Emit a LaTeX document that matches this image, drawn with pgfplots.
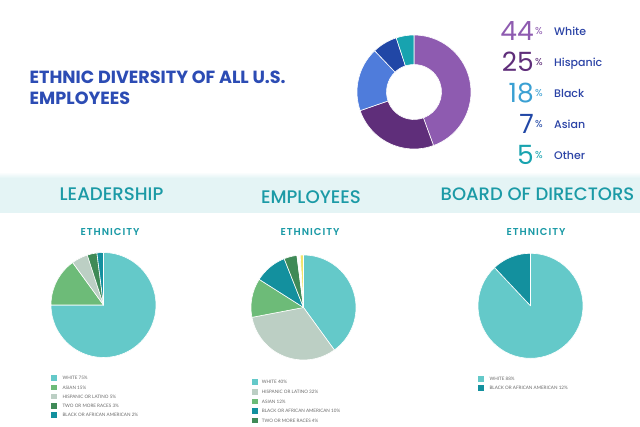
\documentclass[border=0pt]{standalone}
\usepackage{pgfplots}
\pgfplotsset{compat=1.18}
\usepackage{pgfplotstable}
\usepackage{fontspec}
\setmainfont{Poppins}
\IfFontExistsTF{Poppins Medium}{\newfontfamily\med{Poppins Medium}}{\newfontfamily\med{Poppins}}
\IfFontExistsTF{Poppins SemiBold}{\newfontfamily\semi{Poppins SemiBold}}{\newfontfamily\semi{Poppins Bold}}
\newfontfamily\legfont{Lato}

% donut colours
\definecolor{dWhite}{HTML}{8E5BB0}
\definecolor{dHisp}{HTML}{5F2E7A}
\definecolor{dBlack}{HTML}{4F7CDB}
\definecolor{dAsian}{HTML}{2147A6}
\definecolor{dOther}{HTML}{17A3AF}
\definecolor{nBlack}{HTML}{3AA0D3}
\definecolor{titleblue}{HTML}{2C4CB4}
\definecolor{labelblue}{HTML}{2B43A6}
% pie colours
\definecolor{pWhite}{HTML}{64C9C9}
\definecolor{pAsian}{HTML}{6DBB78}
\definecolor{pHisp}{HTML}{BCCFC4}
\definecolor{pTwo}{HTML}{3F8A57}
\definecolor{pBlack}{HTML}{13909E}
\definecolor{pYel}{HTML}{F0E46A}
\definecolor{head}{HTML}{1B9AA6}
\definecolor{band}{HTML}{E4F4F5}
\definecolor{legtext}{HTML}{6A6A6A}

\pgfplotstableread{
v c
44 dWhite
25 dHisp
18 dBlack
7 dAsian
5 dOther
}\donut

\pgfplotstableread{
v c
75 pWhite
15 pAsian
5 pHisp
3 pTwo
2 pBlack
}\leaders

\pgfplotstableread{
v c
40 pWhite
32 pHisp
12 pAsian
10 pBlack
4 pTwo
1 white
1 pYel
}\staff

\pgfplotstableread{
v c
88 pWhite
12 pBlack
}\board

% slices clockwise from 12 o'clock; #1 table, #2 total, #3 outer r, #4 inner r
\newcommand\pieslices[4]{%
  \pgfplotstablegetrowsof{#1}%
  \pgfmathtruncatemacro\nrows{\pgfplotsretval-1}%
  \def\cum{0}%
  \pgfplotsforeachungrouped \i in {0,...,\nrows}{%
    \pgfplotstablegetelem{\i}{v}\of{#1}\let\val\pgfplotsretval
    \pgfplotstablegetelem{\i}{c}\of{#1}\let\col\pgfplotsretval
    \pgfmathsetmacro\angA{90-(\cum/#2)*360}%
    \pgfmathsetmacro\angB{90-((\cum+\val)/#2)*360}%
    \pgfmathsetmacro\cum{\cum+\val}%
    \edef\temp{\noexpand\fill[fill=\col, draw=white, line width=0.6pt, line join=round]
      ([shift={(\angA:#3pt)}]axis cs:0,0) arc[start angle=\angA, end angle=\angB, radius=#3pt]
      -- ([shift={(\angB:#4pt)}]axis cs:0,0) arc[start angle=\angB, end angle=\angA, radius=#4pt] -- cycle;}%
    \temp
  }%
}

\newcommand\legitem[5]{% x, y, colour, text x, text
  \fill[#3] (#1,-#2-2.8) rectangle ++(5.6,5.6);
  \node[anchor=west, inner sep=0pt, text=legtext, font=\legfont\fontsize{4.6}{5}\selectfont] at (#4,-#2) {#5};
}

\pgfplotsset{piechart/.style={anchor=center, hide axis, x=1pt, y=1pt,
  xmin=-60, xmax=60, ymin=-60, ymax=60, clip=false}}

\begin{document}
\begin{tikzpicture}[x=1pt,y=1pt]
\fill[white] (0,0) rectangle (640,-427);
\path[use as bounding box] (0,0) rectangle (640,-427);
\fill[band] (0,-178) rectangle (640,-213);
\shade[top color=white, bottom color=band] (0,-172) rectangle (640,-178);

% title
\node[anchor=base west, inner sep=0pt, text=titleblue, font=\bfseries\fontsize{17.6}{20}\selectfont] at (29.5,-83.5) {ETHNIC DIVERSITY OF ALL U.S.};
\node[anchor=base west, inner sep=0pt, text=titleblue, font=\bfseries\fontsize{17.6}{20}\selectfont] at (29.5,-104.5) {EMPLOYEES};

% donut
\begin{axis}[piechart, at={(414pt,-92pt)}]
  \addplot[draw=none] coordinates {(0,0)};
  \pieslices{\donut}{99}{57}{27.5}
\end{axis}

% donut key
\foreach \num/\lab/\col/\yb in {44/White/dWhite/41, 25/Hispanic/dHisp/71.7, 18/Black/nBlack/103, 7/Asian/dAsian/134, 5/Other/dOther/165}{
  \node[anchor=base east, inner sep=0pt, text=\col, font=\fontsize{26.5}{27}\selectfont] at (534,-\yb) {\num};
  \node[anchor=north west, inner sep=0pt, text=\col, font=\fontsize{10}{10}\selectfont] at (535,-\yb+13.8) {\%};
  \node[anchor=base west, inner sep=0pt, text=labelblue, font=\med\fontsize{11}{12}\selectfont] at (554,-\yb+5.3) {\lab};
}

% section headings
\node[anchor=base, inner sep=0pt, text=head, font=\med\fontsize{18.2}{19}\selectfont] at (111.5,-200.5) {LEADERSHIP};
\node[anchor=base, inner sep=0pt, text=head, font=\med\fontsize{18.2}{19}\selectfont] at (311,-204) {EMPLOYEES};
\node[anchor=base, inner sep=0pt, text=head, font=\med\fontsize{18}{19}\selectfont] at (537.5,-201) {BOARD OF DIRECTORS};
\foreach \xc in {110,310,536}{
  \node[anchor=base, inner sep=0pt, text=head, font=\semi\addfontfeature{LetterSpace=10}\fontsize{10}{11}\selectfont] at (\xc,-235.5) {ETHNICITY};
}

% pies
\begin{axis}[piechart, at={(103.5pt,-305pt)}]
  \addplot[draw=none] coordinates {(0,0)};
  \pieslices{\leaders}{100}{52.5}{0}
\end{axis}
\begin{axis}[piechart, at={(303.5pt,-307.5pt)}]
  \addplot[draw=none] coordinates {(0,0)};
  \pieslices{\staff}{100}{52.5}{0}
\end{axis}
\begin{axis}[piechart, at={(530.5pt,-305.8pt)}]
  \addplot[draw=none] coordinates {(0,0)};
  \pieslices{\board}{100}{52.5}{0}
\end{axis}

% legends
\legitem{51}{378.3}{pWhite}{62.3}{WHITE 75\%}
\legitem{51}{387.5}{pAsian}{62.3}{ASIAN 15\%}
\legitem{51}{396.7}{pHisp}{62.3}{HISPANIC OR LATINO 5\%}
\legitem{51}{405.9}{pTwo}{62.3}{TWO OR MORE RACES 3\%}
\legitem{51}{415}{pBlack}{62.3}{BLACK OR AFRICAN AMERICAN 2\%}

\legitem{252}{382.3}{pWhite}{261.7}{WHITE 40\%}
\legitem{252}{391.8}{pHisp}{261.7}{HISPANIC OR LATINO 32\%}
\legitem{252}{401.5}{pAsian}{261.7}{ASIAN 12\%}
\legitem{252}{411}{pBlack}{261.7}{BLACK OR AFRICAN AMERICAN 10\%}
\legitem{252}{420.7}{pTwo}{261.7}{TWO OR MORE RACES 4\%}

\legitem{478}{379}{pWhite}{489.3}{WHITE 88\%}
\legitem{478}{388.3}{pBlack}{489.3}{BLACK OR AFRICAN AMERICAN 12\%}
\end{tikzpicture}
\end{document}
